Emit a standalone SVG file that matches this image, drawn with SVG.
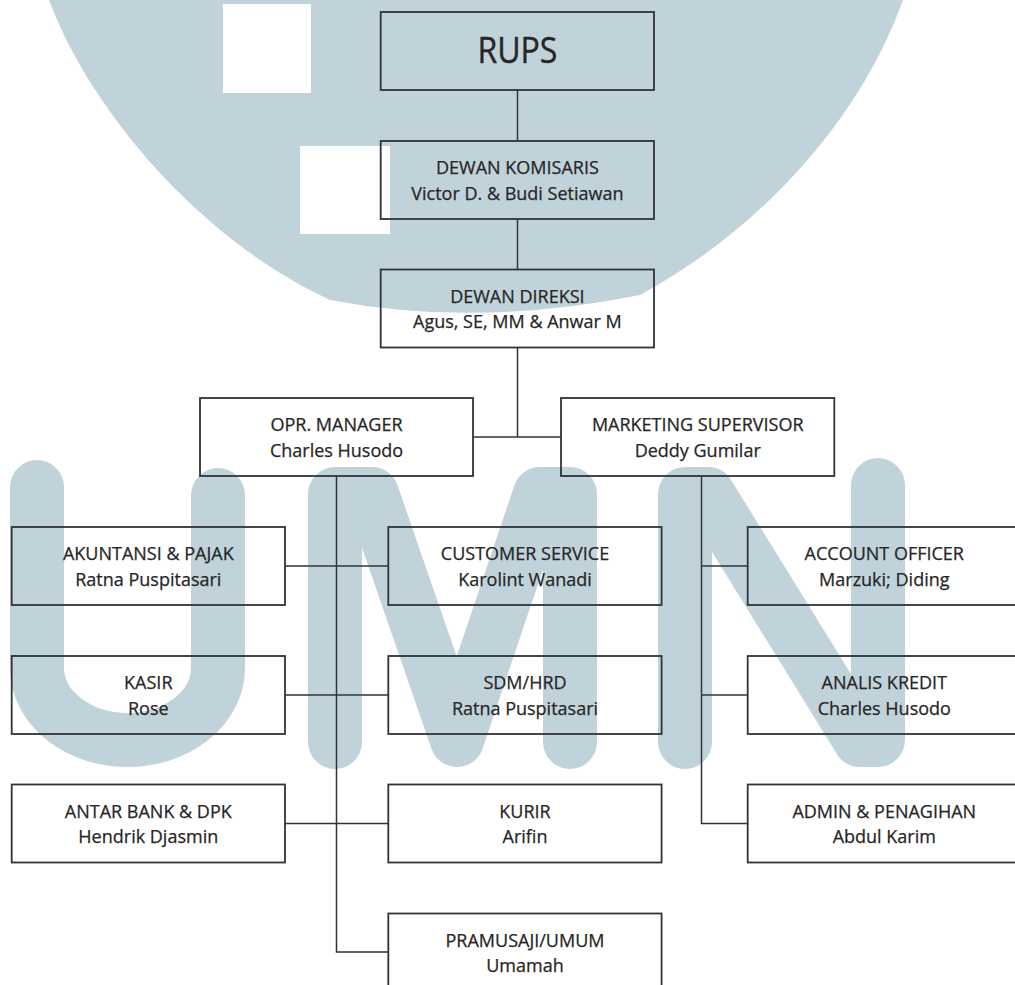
<svg xmlns="http://www.w3.org/2000/svg" width="1015" height="985" viewBox="0 0 1015 985">
<style>
.box{fill:none;stroke:#2f3438;stroke-width:1.8}
.conn{fill:none;stroke:#2f3438;stroke-width:1.5}
.wm{fill:#c1d3da}
.wms{fill:none;stroke:#c1d3da;stroke-width:54;stroke-linecap:round;stroke-linejoin:round}
text{font-family:"Open Sans","Noto Sans","DejaVu Sans",sans-serif;fill:#262626;stroke:#262626;stroke-width:0.25;text-anchor:middle;font-size:18px}
.big{font-size:36px;stroke-width:0.4}
</style>
<rect x="0" y="0" width="1015" height="985" fill="#ffffff"/>
<g id="watermark">
<path class="wm" d="M 49,0 L 903,0 C 860,120 760,230 640,295 Q 476,328 330,300 C 200,240 90,110 49,0 Z"/>
<rect x="223" y="4" width="88" height="89" fill="#ffffff"/>
<rect x="300" y="146" width="90" height="88" fill="#ffffff"/>
<path class="wms" d="M 37,487 V 668 A 90.5 72 0 0 0 218,668 V 495"/>
<path class="wms" d="M 335,742 V 494 L 372,494 L 457,740 L 540,494 L 570,494 V 742"/>
<path class="wms" d="M 685,742 V 494 L 708,494 L 860,740 L 878,740 V 485"/>
</g>
<g id="connectors">
<line class="conn" x1="517.5" y1="90" x2="517.5" y2="141"/>
<line class="conn" x1="517.5" y1="219" x2="517.5" y2="269.5"/>
<line class="conn" x1="517.5" y1="347.5" x2="517.5" y2="437"/>
<line class="conn" x1="473" y1="437" x2="561" y2="437"/>
<polyline class="conn" points="336.5,476 336.5,952 388.3,952"/>
<line class="conn" x1="285" y1="566" x2="388.3" y2="566"/>
<line class="conn" x1="285" y1="695" x2="388.3" y2="695"/>
<line class="conn" x1="285" y1="823.5" x2="388.3" y2="823.5"/>
<polyline class="conn" points="701.5,476 701.5,823.5 747.7,823.5"/>
<line class="conn" x1="701.5" y1="566" x2="747.7" y2="566"/>
<line class="conn" x1="701.5" y1="695" x2="747.7" y2="695"/>
</g>
<g id="rups"><rect class="box" x="380.7" y="12" width="273.3" height="78"/><text class="big" x="517.4" y="63" textLength="80" lengthAdjust="spacingAndGlyphs">RUPS</text></g>
<g id="komisaris"><rect class="box" x="380.7" y="141" width="273.3" height="78"/><text x="517.4" y="174">DEWAN KOMISARIS</text><text x="517.4" y="199.5">Victor D. &amp; Budi Setiawan</text></g>
<g id="direksi"><rect class="box" x="380.7" y="269.5" width="273.3" height="78"/><text x="517.4" y="302.5">DEWAN DIREKSI</text><text x="517.4" y="328">Agus, SE, MM &amp; Anwar M</text></g>
<g id="opr-manager"><rect class="box" x="200" y="398" width="273" height="78"/><text x="336.5" y="431">OPR. MANAGER</text><text x="336.5" y="456.5">Charles Husodo</text></g>
<g id="marketing-supervisor"><rect class="box" x="561" y="398" width="273.3" height="78"/><text x="697.7" y="431">MARKETING SUPERVISOR</text><text x="697.7" y="456.5">Deddy Gumilar</text></g>
<g id="akuntansi"><rect class="box" x="11.7" y="527" width="273.3" height="78"/><text x="148.3" y="560">AKUNTANSI &amp; PAJAK</text><text x="148.3" y="585.5">Ratna Puspitasari</text></g>
<g id="customer-service"><rect class="box" x="388.3" y="527" width="273.3" height="78"/><text x="525" y="560">CUSTOMER SERVICE</text><text x="525" y="585.5">Karolint Wanadi</text></g>
<g id="account-officer"><rect class="box" x="747.7" y="527" width="273.3" height="78"/><text x="884.3" y="560">ACCOUNT OFFICER</text><text x="884.3" y="585.5">Marzuki; Diding</text></g>
<g id="kasir"><rect class="box" x="11.7" y="656" width="273.3" height="78"/><text x="148.3" y="689">KASIR</text><text x="148.3" y="714.5">Rose</text></g>
<g id="sdm-hrd"><rect class="box" x="388.3" y="656" width="273.3" height="78"/><text x="525" y="689">SDM/HRD</text><text x="525" y="714.5">Ratna Puspitasari</text></g>
<g id="analis-kredit"><rect class="box" x="747.7" y="656" width="273.3" height="78"/><text x="884.3" y="689">ANALIS KREDIT</text><text x="884.3" y="714.5">Charles Husodo</text></g>
<g id="antar-bank"><rect class="box" x="11.7" y="784.5" width="273.3" height="78"/><text x="148.3" y="817.5">ANTAR BANK &amp; DPK</text><text x="148.3" y="843">Hendrik Djasmin</text></g>
<g id="kurir"><rect class="box" x="388.3" y="784.5" width="273.3" height="78"/><text x="525" y="817.5">KURIR</text><text x="525" y="843">Arifin</text></g>
<g id="admin-penagihan"><rect class="box" x="747.7" y="784.5" width="273.3" height="78"/><text x="884.3" y="817.5">ADMIN &amp; PENAGIHAN</text><text x="884.3" y="843">Abdul Karim</text></g>
<g id="pramusaji"><rect class="box" x="388.3" y="913.5" width="273.3" height="78"/><text x="525" y="946.5">PRAMUSAJI/UMUM</text><text x="525" y="972">Umamah</text></g>
</svg>
